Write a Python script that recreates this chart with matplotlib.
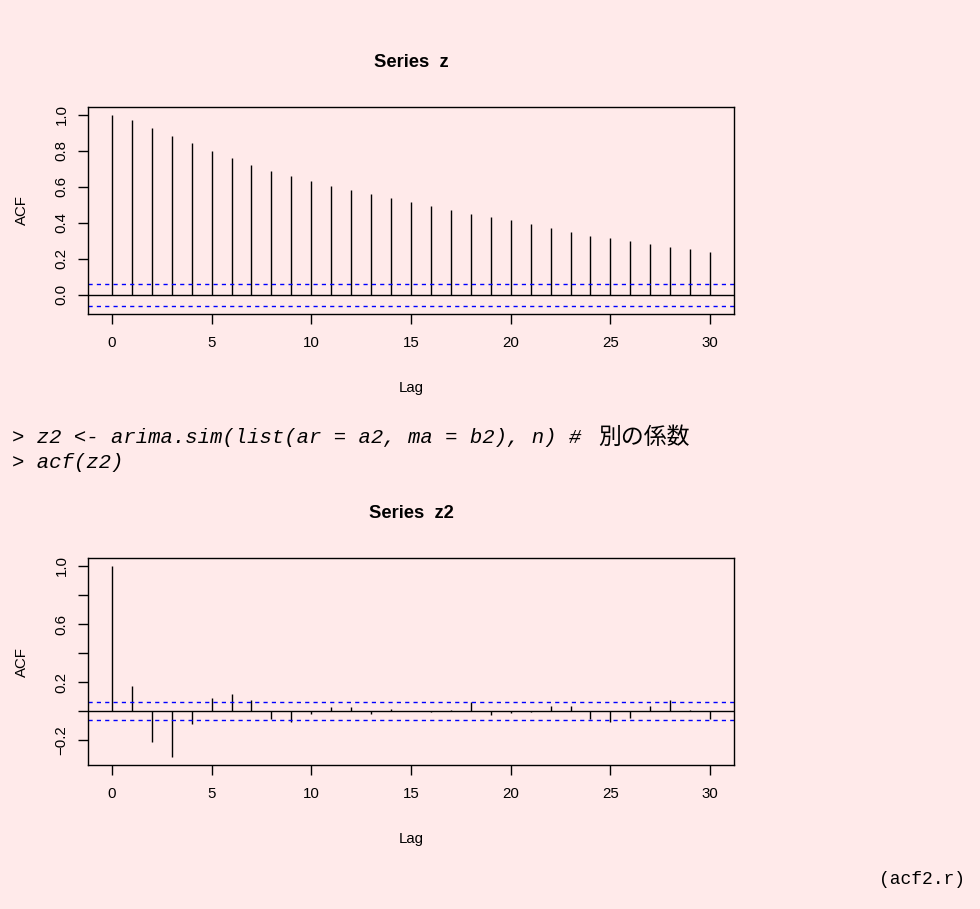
import matplotlib
matplotlib.use("Agg")
import matplotlib.pyplot as plt
import numpy as np

lags = list(range(31))
acf_z = [1.0, 0.969, 0.928, 0.884, 0.841, 0.799, 0.758, 0.721, 0.688, 0.659,
         0.633, 0.605, 0.583, 0.559, 0.537, 0.513, 0.493, 0.470, 0.450, 0.432,
         0.415, 0.393, 0.371, 0.349, 0.328, 0.314, 0.297, 0.282, 0.268, 0.253, 0.238]
acf_z2 = [1.0, 0.178, -0.208, -0.316, -0.087, 0.092, 0.119, 0.078, -0.050, -0.073,
          -0.020, 0.030, 0.030, -0.015, 0.016, 0.003, -0.005, 0.009, 0.062, -0.023,
          -0.014, -0.005, 0.037, 0.037, -0.053, -0.076, -0.046, 0.037, 0.076, 0.009, -0.050]
ci = 0.062
xticks = [0, 5, 10, 15, 20, 25, 30]
yticks_top = [0.0, 0.2, 0.4, 0.6, 0.8, 1.0]
yticks_bot = [-0.2, 0.0, 0.2, 0.4, 0.6, 0.8, 1.0]
ylabels_bot = ["\u22120.2", "", "0.2", "", "0.6", "", "1.0"]

BG = "#ffeaea"
W, H = 980, 909
fig = plt.figure(figsize=(W / 100, H / 100), dpi=100, facecolor=BG)
SANS = "Liberation Sans"
FS = 10.8


def px_rect(l, t, r, b):
    return [l / W, 1 - b / H, (r - l) / W, (b - t) / H]


def acf_panel(l, t, r, b, vals, title, yticks, ylabels):
    ax = fig.add_axes(px_rect(l, t, r, b))
    ax.set_facecolor(BG)
    ax.vlines(lags, 0, vals, color="black", lw=1.0)
    ax.axhline(0, color="black", lw=1.0)
    ax.axhline(ci, color="#0000ff", lw=1.0, ls=(0, (3, 3)))
    ax.axhline(-ci, color="#0000ff", lw=1.0, ls=(0, (3, 3)))
    lo = min(min(vals), -ci)
    hi = max(max(vals), ci)
    pad = 0.04 * (hi - lo)
    ax.set_ylim(lo - pad, hi + pad)
    ax.set_xlim(-1.2, 31.2)
    ax.set_xticks(xticks)
    ax.set_xticklabels([str(t) for t in xticks], fontsize=FS, family=SANS)
    ax.set_yticks(yticks)
    ax.set_yticklabels(ylabels, fontsize=FS, family=SANS, rotation=90, va="center")
    ax.tick_params(axis="x", direction="out", length=7, width=1, pad=9)
    ax.tick_params(axis="y", direction="out", length=7, width=1, pad=7)
    for s in ax.spines.values():
        s.set_linewidth(1.0)
    cx = (l + r) / 2
    fig.text(cx / W, 1 - (t - 44.5) / H, title, fontsize=13.2, fontweight="bold",
             family=SANS, ha="center", va="center")
    fig.text(cx / W, 1 - (b + 74) / H, "Lag", fontsize=FS, family=SANS,
             ha="center", va="center")
    fig.text(21.7 / W, 1 - ((t + b) / 2) / H, "ACF", fontsize=FS, family=SANS,
             ha="center", va="center", rotation=90)
    return ax


acf_panel(88, 107, 734, 313.6, acf_z, "Series  z", yticks_top,
          [f"{v:.1f}" for v in yticks_top])
acf_panel(88, 558.3, 734, 765, acf_z2, "Series  z2", yticks_bot, ylabels_bot)

MONO = "Liberation Mono"
fig.text(12 / W, 1 - 437 / H, "> z2 <- arima.sim(list(ar = a2, ma = b2), n) #",
         family=MONO, style="italic", fontsize=14.9, va="center", ha="left")
fig.text(598 / W, 1 - 437 / H, "別の係数", family=["Noto Sans CJK JP"],
         fontsize=16.5, va="center", ha="left")
fig.text(12 / W, 1 - 462 / H, "> acf(z2)",
         family=MONO, style="italic", fontsize=14.9, va="center", ha="left")
fig.text(922 / W, 1 - 880 / H, "(acf2.r)", family=MONO,
         fontsize=13, va="center", ha="center")

fig.savefig("out.png", dpi=100, facecolor=BG)
